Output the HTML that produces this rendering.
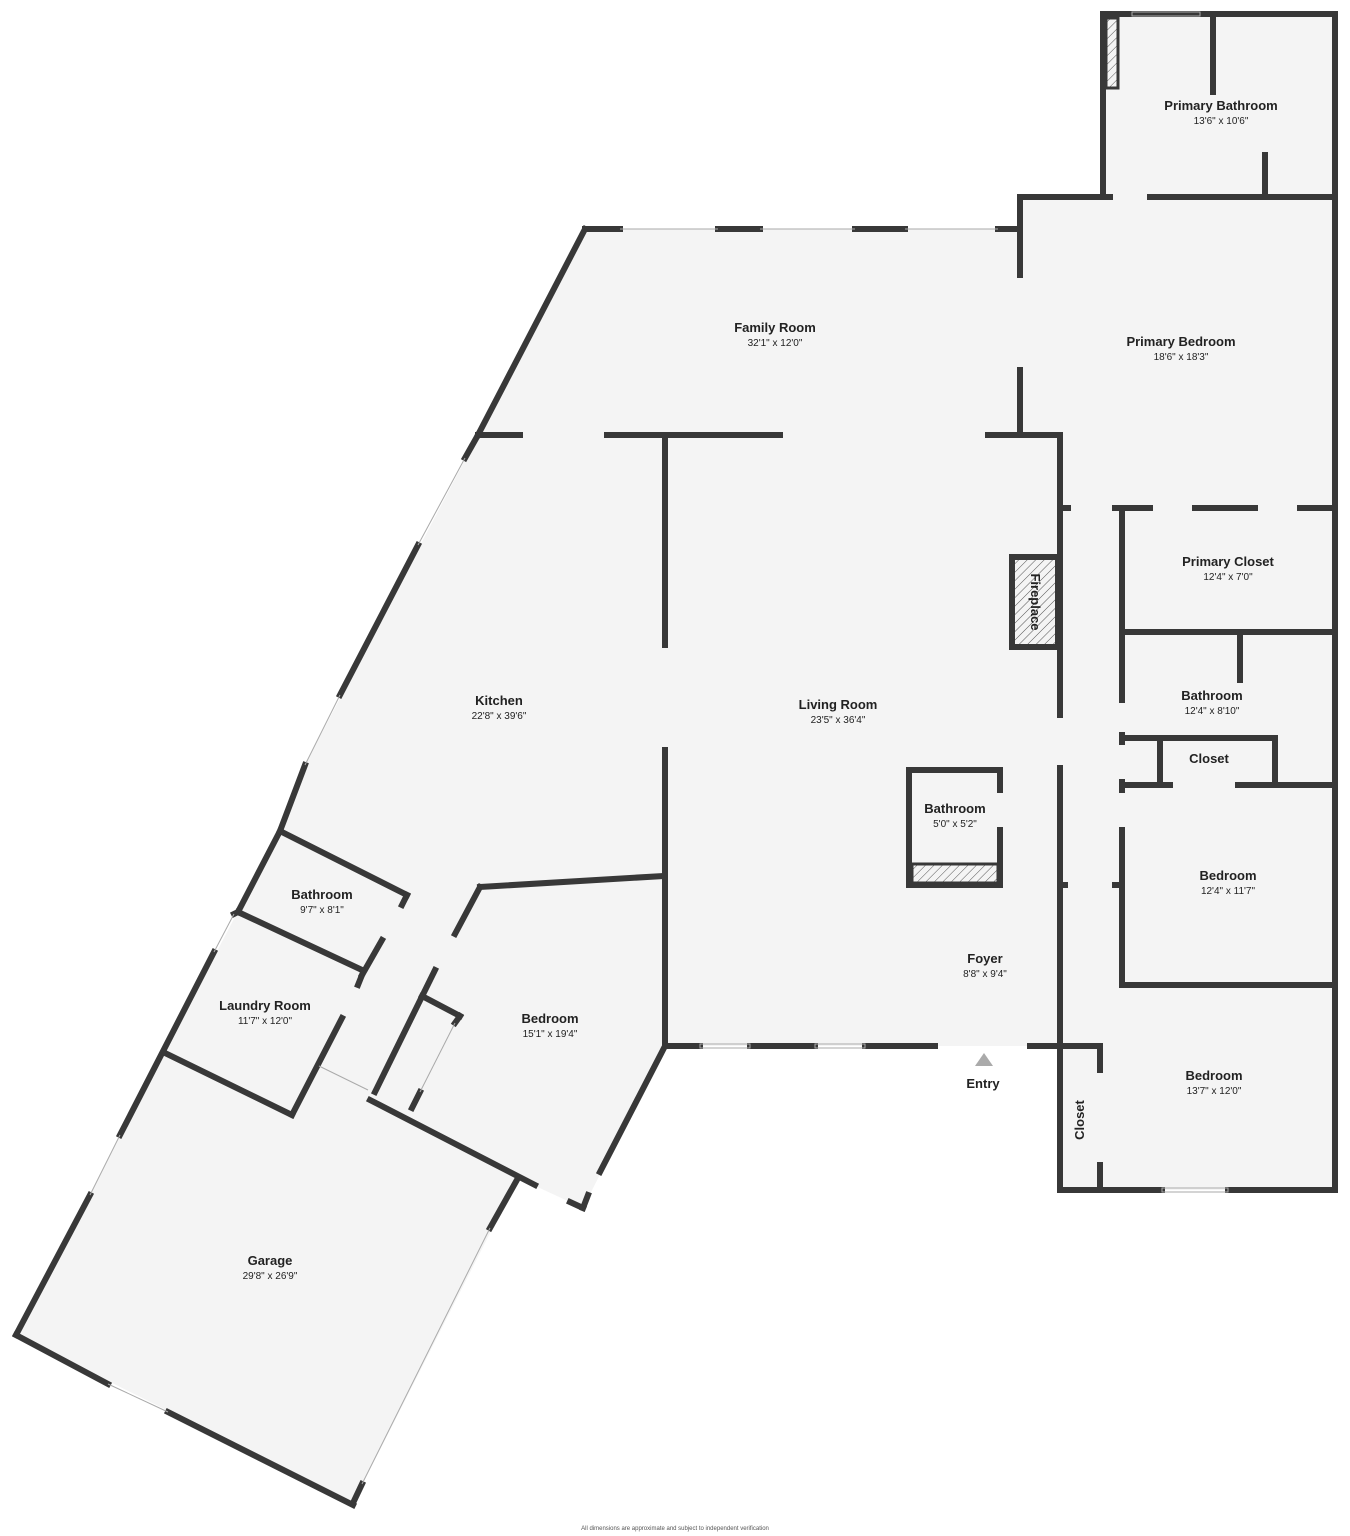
<!DOCTYPE html>
<html><head><meta charset="utf-8"><style>
html,body{margin:0;padding:0;background:#fff;}
svg{display:block;}
text{font-family:"Liberation Sans",sans-serif;fill:#222;text-anchor:middle;}
.n{font-size:13px;font-weight:bold;}
.d{font-size:10px;}
</style></head><body>
<svg width="1350" height="1536" viewBox="0 0 1350 1536" xmlns="http://www.w3.org/2000/svg">
<defs>
<pattern id="h" width="6" height="6" patternUnits="userSpaceOnUse" patternTransform="rotate(45)">
<rect width="6" height="6" fill="#f4f4f4"/><line x1="0" y1="0" x2="0" y2="6" stroke="#555" stroke-width="1"/></pattern>
</defs>
<polygon points="585,229 1020,229 1020,197 1103,197 1103,14 1335,14 1335,1190 1060,1190 1060,1046 665,1046 583,1208 518,1178 353,1503 16,1335 280,831 305,765 478,435" fill="#f4f4f4"/>
<g stroke="#383838" stroke-width="6" fill="none" stroke-linecap="square">
<line x1="585" y1="229" x2="620" y2="229"/><line x1="718" y1="229" x2="760" y2="229"/><line x1="855" y1="229" x2="905" y2="229"/><line x1="998" y1="229" x2="1020" y2="229"/>
<line x1="585" y1="229" x2="478" y2="435"/>
<line x1="478" y1="435" x2="465" y2="458"/><line x1="418" y1="545" x2="340" y2="695"/><line x1="305" y1="765" x2="280" y2="831"/>
<line x1="280" y1="831" x2="238" y2="912"/><line x1="238" y1="912" x2="234" y2="914"/><line x1="214" y1="952" x2="120" y2="1135"/><line x1="90" y1="1195" x2="16" y2="1335"/>
<line x1="16" y1="1335" x2="108" y2="1384"/><line x1="168" y1="1412" x2="353" y2="1505"/>
<line x1="353" y1="1503" x2="362" y2="1484"/><line x1="490" y1="1228" x2="518" y2="1178"/>
<line x1="478" y1="435" x2="520" y2="435"/><line x1="607" y1="435" x2="780" y2="435"/><line x1="988" y1="435" x2="1060" y2="435"/>
<line x1="665" y1="435" x2="665" y2="645"/><line x1="665" y1="750" x2="665" y2="1046"/>
<line x1="1020" y1="197" x2="1020" y2="275"/><line x1="1020" y1="370" x2="1020" y2="435"/>
<line x1="1060" y1="435" x2="1060" y2="715"/><line x1="1060" y1="768" x2="1060" y2="1190"/>
<line x1="665" y1="1046" x2="700" y2="1046"/><line x1="750" y1="1046" x2="815" y2="1046"/><line x1="865" y1="1046" x2="935" y2="1046"/><line x1="1030" y1="1046" x2="1100" y2="1046"/>
<line x1="665" y1="1046" x2="600" y2="1172"/><line x1="588" y1="1195" x2="583" y2="1208"/>
<line x1="583" y1="1208" x2="570" y2="1202"/><line x1="535" y1="1185" x2="370" y2="1100"/>
<line x1="292" y1="1115" x2="165" y2="1053"/>
<!-- lower bedroom -->
<line x1="480" y1="887" x2="663" y2="876"/><line x1="480" y1="887" x2="455" y2="934"/><line x1="435" y1="970" x2="375" y2="1092"/>
<line x1="422" y1="996" x2="460" y2="1016"/><line x1="460" y1="1016" x2="455" y2="1023"/><line x1="420" y1="1092" x2="412" y2="1108"/>
<!-- bath/laundry -->
<line x1="280" y1="831" x2="407" y2="895"/><line x1="407" y1="895" x2="402" y2="905"/><line x1="382" y1="940" x2="362" y2="975"/>
<line x1="238" y1="912" x2="362" y2="970"/><line x1="362" y1="975" x2="358" y2="985"/><line x1="342" y1="1018" x2="292" y2="1115"/>
<!-- right side -->
<line x1="1103" y1="14" x2="1335" y2="14"/><line x1="1103" y1="14" x2="1103" y2="197"/><line x1="1335" y1="14" x2="1335" y2="1190"/>
<line x1="1213" y1="14" x2="1213" y2="92"/><line x1="1265" y1="155" x2="1265" y2="197"/>
<line x1="1020" y1="197" x2="1110" y2="197"/><line x1="1150" y1="197" x2="1335" y2="197"/>
<line x1="1060" y1="508" x2="1068" y2="508"/><line x1="1115" y1="508" x2="1150" y2="508"/><line x1="1195" y1="508" x2="1255" y2="508"/><line x1="1300" y1="508" x2="1335" y2="508"/>
<line x1="1122" y1="508" x2="1122" y2="700"/><line x1="1122" y1="735" x2="1122" y2="742"/><line x1="1122" y1="782" x2="1122" y2="790"/><line x1="1122" y1="830" x2="1122" y2="985"/>
<line x1="1122" y1="632" x2="1335" y2="632"/><line x1="1240" y1="632" x2="1240" y2="680"/>
<line x1="1122" y1="738" x2="1275" y2="738"/><line x1="1160" y1="738" x2="1160" y2="782"/><line x1="1275" y1="738" x2="1275" y2="782"/>
<line x1="1122" y1="785" x2="1170" y2="785"/><line x1="1238" y1="785" x2="1335" y2="785"/>
<line x1="1122" y1="985" x2="1335" y2="985"/>
<line x1="1060" y1="885" x2="1065" y2="885"/><line x1="1115" y1="885" x2="1122" y2="885"/>
<line x1="1100" y1="1046" x2="1100" y2="1070"/><line x1="1100" y1="1165" x2="1100" y2="1190"/>
<line x1="1060" y1="1190" x2="1162" y2="1190"/><line x1="1228" y1="1190" x2="1335" y2="1190"/>
<rect x="1012" y="557" width="46" height="90" fill="url(#h)"/>
<polyline points="1000,790 1000,770 909,770 909,885 1000,885 1000,830"/>
</g>
<rect x="912" y="864" width="86" height="19" fill="url(#h)" stroke="#383838" stroke-width="3"/>
<rect x="1106" y="18" width="12" height="70" fill="url(#h)" stroke="#383838" stroke-width="3"/>
<g stroke="#aaa" stroke-width="1" fill="none">
<line x1="620" y1="229" x2="718" y2="229"/><line x1="760" y1="229" x2="855" y2="229"/><line x1="905" y1="229" x2="998" y2="229"/>
<rect x="700" y="1044" width="50" height="4"/><rect x="815" y="1044" width="50" height="4"/><rect x="1162" y="1188" width="66" height="4"/><rect x="1132" y="12" width="68" height="4"/>
<line x1="465" y1="458" x2="418" y2="545"/><line x1="340" y1="695" x2="305" y2="765"/><line x1="120" y1="1135" x2="90" y2="1195"/><line x1="108" y1="1384" x2="168" y2="1412"/>
<line x1="362" y1="1484" x2="490" y2="1228"/>
<line x1="319" y1="1066" x2="368" y2="1090"/><line x1="455" y1="1023" x2="420" y2="1092"/>
<line x1="234" y1="914" x2="214" y2="952"/>
</g>
<polygon points="984,1053 975,1066 993,1066" fill="#aaa"/>
<text class="n" x="775" y="332">Family Room</text><text class="d" x="775" y="346">32'1" x 12'0"</text>
<text class="n" x="1181" y="346">Primary Bedroom</text><text class="d" x="1181" y="360">18'6" x 18'3"</text>
<text class="n" x="1221" y="110">Primary Bathroom</text><text class="d" x="1221" y="124">13'6" x 10'6"</text>
<text class="n" x="1228" y="566">Primary Closet</text><text class="d" x="1228" y="580">12'4" x 7'0"</text>
<text class="n" x="1212" y="700">Bathroom</text><text class="d" x="1212" y="714">12'4" x 8'10"</text>
<text class="n" x="1209" y="763">Closet</text>
<text class="n" x="1228" y="880">Bedroom</text><text class="d" x="1228" y="894">12'4" x 11'7"</text>
<text class="n" x="1214" y="1080">Bedroom</text><text class="d" x="1214" y="1094">13'7" x 12'0"</text>
<text class="n" x="499" y="705">Kitchen</text><text class="d" x="499" y="719">22'8" x 39'6"</text>
<text class="n" x="838" y="709">Living Room</text><text class="d" x="838" y="723">23'5" x 36'4"</text>
<text class="n" x="955" y="813">Bathroom</text><text class="d" x="955" y="827">5'0" x 5'2"</text>
<text class="n" x="985" y="963">Foyer</text><text class="d" x="985" y="977">8'8" x 9'4"</text>
<text class="n" x="983" y="1088">Entry</text>
<text class="n" x="322" y="899">Bathroom</text><text class="d" x="322" y="913">9'7" x 8'1"</text>
<text class="n" x="265" y="1010">Laundry Room</text><text class="d" x="265" y="1024">11'7" x 12'0"</text>
<text class="n" x="550" y="1023">Bedroom</text><text class="d" x="550" y="1037">15'1" x 19'4"</text>
<text class="n" x="270" y="1265">Garage</text><text class="d" x="270" y="1279">29'8" x 26'9"</text>
<text class="n" transform="translate(1031,602) rotate(90)">Fireplace</text>
<text class="n" transform="translate(1084,1120) rotate(-90)">Closet</text>
<text x="675" y="1530" style="font-size:6px;fill:#555">All dimensions are approximate and subject to independent verification</text>
</svg>
</body></html>
